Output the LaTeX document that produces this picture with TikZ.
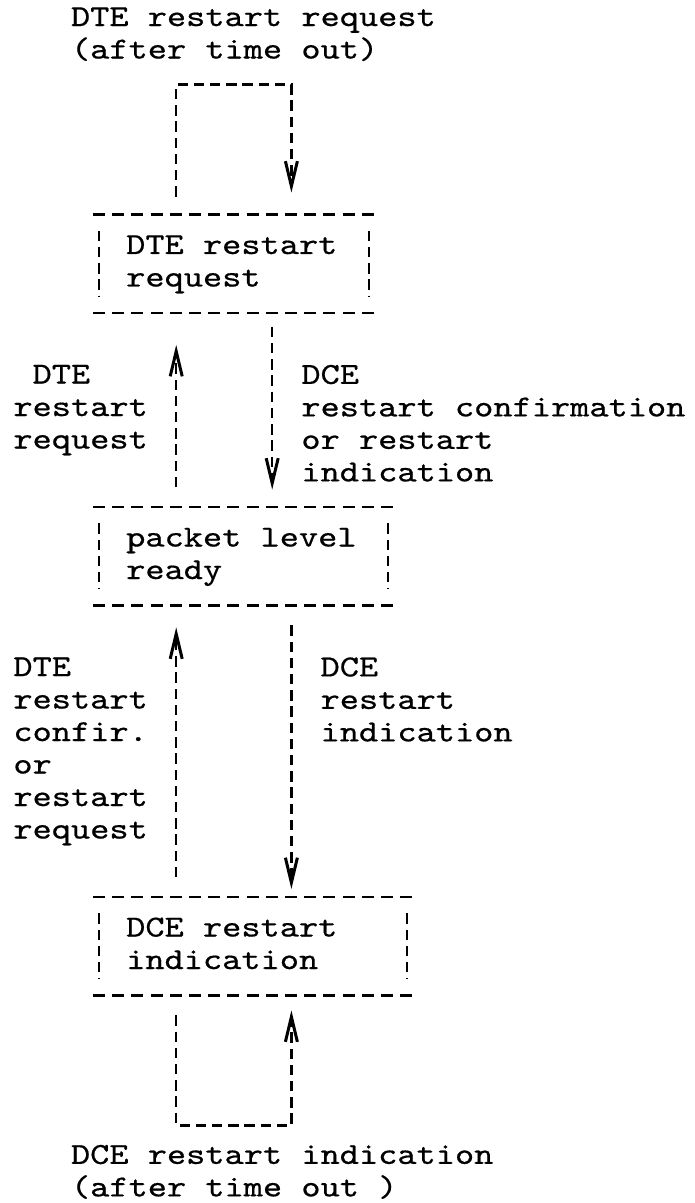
\documentclass[tikz,border=0pt]{standalone}
\usepackage{fontspec}
\usepackage{tikz}
\usetikzlibrary{arrows.meta}
\newfontfamily\typewfont{lmmono10-regular.otf}[FakeStretch=1.2,FakeBold=0.6]
\newcommand\typew{\typewfont\fontsize{15.24pt}{16.25pt}\selectfont\spaceskip=9.6pt\relax}

\begin{document}
\begin{tikzpicture}[x=9.6pt,y=-16.25pt,
			box/.style={inner xsep=13.4pt,inner ysep=0pt,minimum height=48.75pt,text width=#1*9.6pt+2pt,
				align=left,font=\typew,execute at begin node={\spaceskip=9.6pt\strut},execute at end node=\strut},
			lbl/.style={anchor=north west,inner sep=0pt,align=left,font=\typew,execute at begin node={\spaceskip=9.6pt\strut}},
			flow/.style={line width=1.1pt,dash pattern=on 5.2pt off 2.9pt,-{Straight Barb[length=12.5pt,width=6pt,line width=1.5pt]}},
			hline/.style={line width=1.3pt,dash pattern=on 6pt off 3.6pt},
			vline/.style={line width=1.1pt,dash pattern=on 5.2pt off 2.9pt}
			]
			
			\def \cw {9.6pt};
			\def \rh {16.25pt};
			
			\path[use as bounding box,fill=white] (-1.177,0.385) rectangle (34.97,37.4);
			
			% states
			\node[box=11] (reqbox) at (11,8.5) {DTE restart\\request};
			\node[box=12] (readybox) at (11.5,17.5) {packet level\\ready};
			\node[box=13] (indbox) at (12,29.5) {DCE restart\\indication};
			
			\foreach \b in {reqbox,readybox,indbox} {
				\draw[hline] ([xshift=-3pt]\b.north west) -- ([xshift=3pt]\b.north east);
				\draw[hline] ([xshift=-3pt]\b.south west) -- ([xshift=3pt]\b.south east);
				\draw[vline] ([yshift=-0.5*\rh]\b.north west) -- ([yshift=0.5*\rh]\b.south west);
				\draw[vline] ([yshift=-0.5*\rh]\b.north east) -- ([yshift=0.5*\rh]\b.south east);
			}
			
			% labels
			\node[lbl] (topttl) at (2.5,0.6) {DTE restart request\\(after time out)};
			\node[lbl] (dtereqlbl) at (-0.5,11.6) {\hphantom{x}DTE\\restart\\request};
			\node[lbl] (dceconflbl) at (14.5,11.6) {DCE\\restart confirmation\\or restart\\indication};
			\node[lbl] (dteconflbl) at (-0.5,20.6) {DTE\\restart\\confir.\\or\\restart\\request};
			\node[lbl] (dceindlbl) at (15.5,20.6) {DCE\\restart\\indication};
			\node[lbl] (botttl) at (2.5,35.6) {DCE restart indication\\(after time out )};
			
			% transitions
			\draw[flow,shorten <=9pt,shorten >=11pt] ([xshift=-3*\cw]reqbox.north) -- ++(0,-4) -| ([xshift=3*\cw]reqbox.north);
			\draw[flow,shorten <=10pt,shorten >=16pt] ([xshift=-3.5*\cw]readybox.north) -- ([xshift=-3*\cw]reqbox.south);
			\draw[flow,shorten <=7pt,shorten >=8.75pt] ([xshift=2*\cw]reqbox.south) -- ([xshift=1.5*\cw]readybox.north);
			\draw[flow,shorten <=10pt,shorten >=11pt] ([xshift=-4*\cw]indbox.north) -- ([xshift=-3.5*\cw]readybox.south);
			\draw[flow,shorten <=10pt,shorten >=4pt] ([xshift=2.5*\cw]readybox.south) -- ([xshift=2*\cw]indbox.north);
			\draw[flow,shorten <=10pt,shorten >=7.5pt] ([xshift=-4*\cw]indbox.south) -- ++(0,4) -| ([xshift=2*\cw]indbox.south);
			
\end{tikzpicture}
\end{document}
